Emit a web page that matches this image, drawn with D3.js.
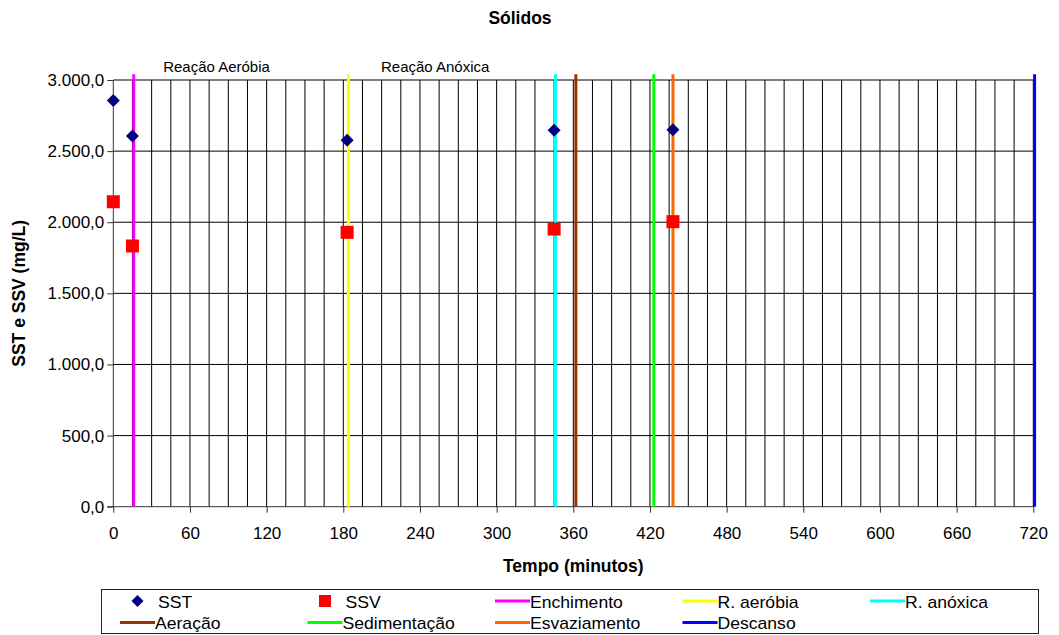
<!DOCTYPE html>
<html><head><meta charset="utf-8">
<script src="https://cdn.jsdelivr.net/npm/d3@7"></script>
<style>
html,body{margin:0;padding:0;background:#fff;}
svg{display:block;font-family:"Liberation Sans",Arial,sans-serif;}
</style></head>
<body><svg id="c" width="1059" height="635"></svg>
<script>
// ---- data ----
const sampleTimes = [0, 15, 183, 345, 438];
const sstValues = [2855, 2606, 2576, 2646, 2650];
const ssvValues = [2144, 1833, 1929, 1952, 2004];
const phaseNames = ["Enchimento", "R. aeróbia", "R. anóxica", "Aeração", "Sedimentação", "Esvaziamento", "Descanso"];
const phaseTimes = [16, 184, 346, 362, 423, 438, 721];
const phaseTop = 3040;
const xTicks = [0, 60, 120, 180, 240, 300, 360, 420, 480, 540, 600, 660, 720];
const yTicks = [0, 500, 1000, 1500, 2000, 2500, 3000];
const annotations = [{text: "Reação Aeróbia", t: 39, v: 3058}, {text: "Reação Anóxica", t: 209.5, v: 3058}];

const phaseColors = ["#FF00FF", "#FFFF00", "#00FFFF", "#993300", "#00FF00", "#FF6600", "#0000FF"];

const svg = d3.select("#c");
const L = 113.3, R = 1033.3, T = 80, B = 506.7;
const x = d3.scaleLinear().domain([0, 720]).range([L, R]);
const y = d3.scaleLinear().domain([0, 3000]).range([B, T]);
const loc = d3.formatLocale({decimal: ",", thousands: ".", grouping: [3], currency: ["", ""]});
const fmt = loc.format(",.1f");

// title
svg.append("text").attr("x", 520).attr("y", 24).attr("text-anchor", "middle")
  .attr("font-weight", "bold").attr("font-size", 17.5).text("Sólidos");

// vertical grid every 15 min
const vgrid = d3.range(15, 721, 15);
svg.append("g").selectAll("line").data(vgrid).join("line")
  .attr("x1", d => x(d)).attr("x2", d => x(d)).attr("y1", T).attr("y2", B)
  .attr("stroke", "#000").attr("stroke-width", 1);
// horizontal grid
svg.append("g").selectAll("line").data(yTicks.filter(d => d > 0)).join("line")
  .attr("x1", L).attr("x2", R).attr("y1", d => y(d)).attr("y2", d => y(d))
  .attr("stroke", "#000").attr("stroke-width", 1);

// axes
const yAxis = d3.axisLeft(y).tickValues(yTicks).tickFormat(fmt).tickSize(6).tickPadding(3);
const gy = svg.append("g").attr("transform", `translate(${L},0)`).call(yAxis);
gy.selectAll("text").attr("font-size", 17).attr("font-family", "Liberation Sans, Arial, sans-serif").attr("fill", "#000");
gy.selectAll("line,path").attr("stroke", "#333");
gy.select(".domain").attr("d", `M0,${B}V${T}`);

const xAxis = d3.axisBottom(x).tickValues(xTicks).tickFormat(d3.format("d")).tickSize(6).tickPadding(14);
const gx = svg.append("g").attr("transform", `translate(0,${B})`).call(xAxis);
gx.selectAll("text").attr("font-size", 17).attr("font-family", "Liberation Sans, Arial, sans-serif").attr("fill", "#000");
gx.selectAll("line,path").attr("stroke", "#333");
gx.select(".domain").attr("d", `M${L - 6},0H${R}`);

// axis titles
svg.append("text").attr("x", (L + R) / 2).attr("y", 571.5).attr("text-anchor", "middle")
  .attr("font-weight", "bold").attr("font-size", 17.5).text("Tempo (minutos)");
svg.append("text").attr("transform", `translate(25,${(T + B) / 2}) rotate(-90)`).attr("text-anchor", "middle")
  .attr("font-weight", "bold").attr("font-size", 17.5).text("SST e SSV (mg/L)");

// annotations
svg.append("g").selectAll("text").data(annotations).join("text")
  .attr("x", d => x(d.t)).attr("y", d => y(d.v)).attr("font-size", 15).text(d => d.text);

// phase lines
const phases = phaseNames.map((n, i) => ({name: n, t: phaseTimes[i], color: phaseColors[i]}));
const vline = d3.line().x(d => x(d[0])).y(d => y(d[1]));
svg.append("g").selectAll("path").data(phases).join("path")
  .attr("d", d => vline([[d.t, 0], [d.t, phaseTop]]))
  .attr("stroke", d => d.color).attr("stroke-width", 3).attr("fill", "none");

// points
const sst = sampleTimes.map((t, i) => ({t, v: sstValues[i]}));
const ssv = sampleTimes.map((t, i) => ({t, v: ssvValues[i]}));
const diamond = "M0,-6.5L6.5,0L0,6.5L-6.5,0Z";
svg.append("g").selectAll("path").data(sst).join("path")
  .attr("transform", d => `translate(${x(d.t)},${y(d.v)})`).attr("d", diamond).attr("fill", "#000080");
svg.append("g").selectAll("rect").data(ssv).join("rect")
  .attr("x", d => x(d.t) - 6.5).attr("y", d => y(d.v) - 6.5).attr("width", 13).attr("height", 13).attr("fill", "#FF0000");

// legend
const lg = svg.append("g");
lg.append("rect").attr("x", 101.5).attr("y", 589.5).attr("width", 937).attr("height", 44)
  .attr("fill", "#fff").attr("stroke", "#222").attr("stroke-width", 1);
const items = [
  {type: "diamond", name: "SST", color: "#000080"},
  {type: "square", name: "SSV", color: "#FF0000"},
  ...phases.map(p => ({type: "line", name: p.name, color: p.color}))
];
function legText(tx, ty, s) {
  lg.append("text").attr("transform", `translate(${tx},${ty}) scale(1.1,1)`)
    .attr("font-size", 16).text(s);
}
items.forEach((it, i) => {
  const col = i % 5, row = Math.floor(i / 5);
  const bx = 120 + 187.5 * col, cy = 601 + row * 21.5;
  if (it.type === "line") {
    lg.append("line").attr("x1", bx).attr("x2", bx + 35).attr("y1", cy).attr("y2", cy)
      .attr("stroke", it.color).attr("stroke-width", 3);
    legText(bx + 35, cy + 6.5, it.name);
  } else {
    if (it.type === "diamond") {
      lg.append("path").attr("transform", `translate(${bx + 17.5},${cy})`).attr("d", "M0,-6L6,0L0,6L-6,0Z").attr("fill", it.color);
    } else {
      lg.append("rect").attr("x", bx + 11.5).attr("y", cy - 6).attr("width", 12).attr("height", 12).attr("fill", it.color);
    }
    legText(bx + 38, cy + 6.5, it.name);
  }
});
</script></body></html>
